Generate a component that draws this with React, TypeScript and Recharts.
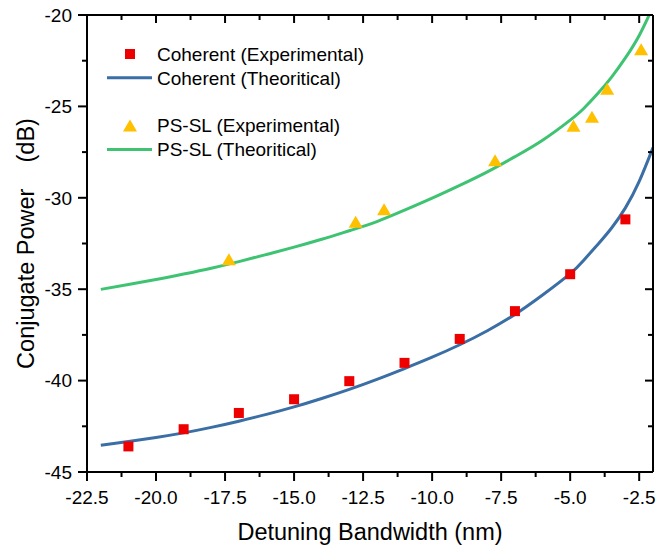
import { ComposedChart, Line, Scatter, XAxis, YAxis } from "recharts";

// measured points
const coherentExpX = [-21, -19, -17, -15, -13, -11, -9, -7, -5, -3];
const coherentExpY = [-43.6, -42.66, -41.77, -41.02, -40.03, -39.03, -37.72, -36.2, -34.18, -31.18];

const psslExpX = [-17.36, -12.77, -11.74, -7.72, -4.88, -4.21, -3.66, -2.43];
const psslExpY = [-33.36, -31.31, -30.63, -27.94, -26.06, -25.57, -24.03, -21.88];

// theory curves
const theoryX = [-22, -21, -20, -19, -18, -17, -16, -15, -14, -13, -12, -11, -10, -9, -8, -7, -6, -5, -4.5, -4, -3.5, -3, -2.5, -2];
const coherentTheoryY = [
  -43.54, -43.33, -43.11, -42.86, -42.56, -42.22, -41.85, -41.44, -40.98, -40.48, -39.93, -39.34,
  -38.72, -38.04, -37.27, -36.38, -35.32, -34.15, -33.4, -32.55, -31.65, -30.55, -29.1, -27.25,
];
const psslTheoryY = [
  -35.01, -34.74, -34.47, -34.17, -33.85, -33.49, -33.1, -32.7, -32.27, -31.8, -31.3, -30.68,
  -30.02, -29.32, -28.58, -27.75, -26.85, -25.75, -25.1, -24.3, -23.4, -22.35, -21.12, -19.55,
];

const xMajorTicks = [-22.5, -20, -17.5, -15, -12.5, -10, -7.5, -5, -2.5];
const xMinorTicks = [-21.25, -18.75, -16.25, -13.75, -11.25, -8.75, -6.25, -3.75];
const yMajorTicks = [-45, -40, -35, -30, -25, -20];
const yMinorTicks = [-42.5, -37.5, -32.5, -27.5, -22.5];

const legendItems = [
  { name: "Coherent (Experimental)", kind: "square", color: "#ee0000" },
  { name: "Coherent (Theoritical)", kind: "line", color: "#3a6ea5" },
  { name: "PS-SL (Experimental)", kind: "triangle", color: "#ffc000" },
  { name: "PS-SL (Theoritical)", kind: "line", color: "#3ec372" },
];

const toPts = (xs: number[], ys: number[]) => xs.map((x, i) => ({ x, y: ys[i] }));
const coherentExp = toPts(coherentExpX, coherentExpY);
const psslExp = toPts(psslExpX, psslExpY);
const coherentTheory = toPts(theoryX, coherentTheoryY);
const psslTheory = toPts(theoryX, psslTheoryY);

const FONT = "'Liberation Sans', Arial, sans-serif";
const X_DOMAIN: [number, number] = [-22.5, -2];
const Y_DOMAIN: [number, number] = [-45, -20];

// plot box that the margins/axis sizes below produce
const BOX = { left: 87, right: 653, top: 15, bottom: 472 };
const px = (v: number) => BOX.left + ((v - X_DOMAIN[0]) / (X_DOMAIN[1] - X_DOMAIN[0])) * (BOX.right - BOX.left);
const py = (v: number) => BOX.bottom - ((v - Y_DOMAIN[0]) / (Y_DOMAIN[1] - Y_DOMAIN[0])) * (BOX.bottom - BOX.top);

const BottomTick = (p: any) => (
  <text x={p.x} y={p.y + 32} textAnchor="middle" fontSize={19} fontFamily={FONT} fill="#000">
    {p.payload.value.toFixed(1)}
  </text>
);

const LeftTick = (p: any) => (
  <text x={p.x - 15} y={p.y + 6.8} textAnchor="end" fontSize={19} fontFamily={FONT} fill="#000">
    {String(p.payload.value)}
  </text>
);

const Square = (p: any) => <rect x={p.cx - 5} y={p.cy - 5} width={10} height={10} fill="#ee0000" />;
const Triangle = (p: any) => (
  <polygon points={`${p.cx},${p.cy - 6} ${p.cx - 7},${p.cy + 6} ${p.cx + 7},${p.cy + 6}`} fill="#ffc000" />
);

export default function App() {
  return (
    <div style={{ position: "absolute", left: 0, top: 0, width: 657, height: 546, background: "#fff" }}>
      <ComposedChart width={657} height={546} margin={{ top: 14, right: 3, bottom: 0, left: 0 }}>
        <XAxis
          xAxisId="b"
          dataKey="x"
          type="number"
          domain={X_DOMAIN}
          ticks={xMajorTicks}
          interval={0}
          allowDataOverflow
          height={74}
          tickSize={0}
          tickMargin={0}
          stroke="#000"
          strokeWidth={2}
          tick={BottomTick}
          label={{
            content: (lp: any) => (
              <text
                x={lp.viewBox.x + lp.viewBox.width / 2}
                y={lp.viewBox.y + 68}
                textAnchor="middle"
                fontSize={23.5}
                fontFamily={FONT}
                fill="#000"
              >
                Detuning Bandwidth (nm)
              </text>
            ),
          }}
        />
        <XAxis xAxisId="t" orientation="top" type="number" domain={X_DOMAIN} ticks={xMajorTicks} interval={0}
          allowDataOverflow height={1} tickSize={0} stroke="#000" strokeWidth={2} tick={false} />
        <YAxis
          yAxisId="l"
          dataKey="y"
          type="number"
          domain={Y_DOMAIN}
          ticks={yMajorTicks}
          interval={0}
          allowDataOverflow
          width={87}
          tickSize={0}
          tickMargin={0}
          stroke="#000"
          strokeWidth={2}
          tick={LeftTick}
          label={{
            content: (lp: any) => {
              const cx = lp.viewBox.x + 34;
              const cy = lp.viewBox.y + lp.viewBox.height / 2;
              return (
                <text
                  x={cx}
                  y={cy}
                  transform={`rotate(-90, ${cx}, ${cy})`}
                  textAnchor="middle"
                  fontSize={23.5}
                  fontFamily={FONT}
                  fill="#000"
                  xmlSpace="preserve"
                  style={{ whiteSpace: "pre" }}
                >
                  {"Conjugate Power    (dB)"}
                </text>
              );
            },
          }}
        />
        <YAxis yAxisId="r" orientation="right" type="number" domain={Y_DOMAIN} ticks={yMajorTicks} interval={0}
          allowDataOverflow width={1} tickSize={0} stroke="#000" strokeWidth={2} tick={false} />

        <Line
          xAxisId="b"
          yAxisId="l"
          data={coherentTheory}
          dataKey="y"
          type="natural"
          stroke="#3a6ea5"
          strokeWidth={3}
          dot={false}
          isAnimationActive={false}
        />
        <Line
          xAxisId="b"
          yAxisId="l"
          data={psslTheory}
          dataKey="y"
          type="natural"
          stroke="#3ec372"
          strokeWidth={3}
          dot={false}
          isAnimationActive={false}
        />
        <Scatter xAxisId="b" yAxisId="l" data={coherentExp} dataKey="y" shape={Square} isAnimationActive={false} />
        <Scatter xAxisId="b" yAxisId="l" data={psslExp} dataKey="y" shape={Triangle} isAnimationActive={false} />
      </ComposedChart>

      {/* tick marks (out on bottom/left, in on top/right) and the legend */}
      <svg width={657} height={546} style={{ position: "absolute", left: 0, top: 0, pointerEvents: "none" }}>
        <g stroke="#000" strokeWidth={2}>
          {xMajorTicks.map((v) => (
            <g key={`xM${v}`}>
              <line x1={px(v)} x2={px(v)} y1={BOX.bottom} y2={BOX.bottom + 9} />
              <line x1={px(v)} x2={px(v)} y1={BOX.top} y2={BOX.top + 8} />
            </g>
          ))}
          {xMinorTicks.map((v) => (
            <g key={`xm${v}`}>
              <line x1={px(v)} x2={px(v)} y1={BOX.bottom} y2={BOX.bottom + 5} />
              <line x1={px(v)} x2={px(v)} y1={BOX.top} y2={BOX.top + 5} />
            </g>
          ))}
          {yMajorTicks.map((v) => (
            <g key={`yM${v}`}>
              <line x1={BOX.left - 9} x2={BOX.left} y1={py(v)} y2={py(v)} />
              <line x1={BOX.right - 8} x2={BOX.right} y1={py(v)} y2={py(v)} />
            </g>
          ))}
          {yMinorTicks.map((v) => (
            <g key={`ym${v}`}>
              <line x1={BOX.left - 5} x2={BOX.left} y1={py(v)} y2={py(v)} />
              <line x1={BOX.right - 5} x2={BOX.right} y1={py(v)} y2={py(v)} />
            </g>
          ))}
        </g>
        {legendItems.map((it, i) => {
          const y = 54 + i * 23.8 + (i >= 2 ? 24 : 0);
          return (
            <g key={it.name}>
              {it.kind === "square" && <rect x={125} y={y - 5} width={10} height={10} fill={it.color} />}
              {it.kind === "triangle" && (
                <polygon points={`130,${y - 6} 123,${y + 6} 137,${y + 6}`} fill={it.color} />
              )}
              {it.kind === "line" && <line x1={107} x2={152} y1={y} y2={y} stroke={it.color} strokeWidth={3} />}
              <text x={157} y={y + 6.8} fontSize={19} fontFamily={FONT} fill="#000">
                {it.name}
              </text>
            </g>
          );
        })}
      </svg>
    </div>
  );
}
